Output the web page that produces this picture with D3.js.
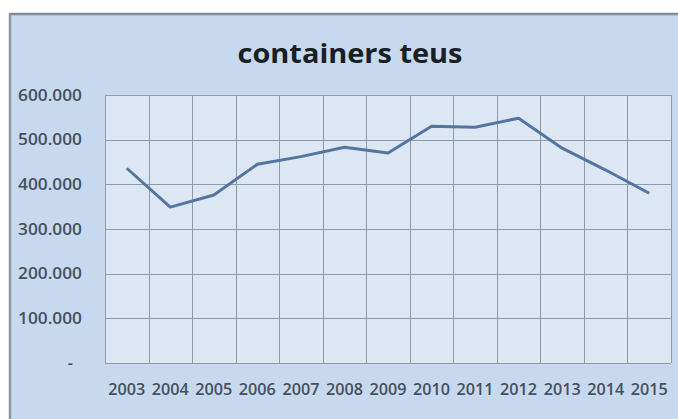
<!DOCTYPE html>
<html><head><meta charset="utf-8">
<script src="https://cdn.jsdelivr.net/npm/d3@7/dist/d3.min.js"></script>
<style>html,body{margin:0;padding:0;background:#fff;}svg{display:block;}</style>
</head><body>
<script>
const years = ["2003","2004","2005","2006","2007","2008","2009","2010","2011","2012","2013","2014","2015"];
const teus = [436000,349000,376000,445000,462000,483000,470000,530000,528000,548000,481000,432000,380000];
const yTicks = [0,100000,200000,300000,400000,500000,600000];
const yTickLabels = ["-","100.000","200.000","300.000","400.000","500.000","600.000"];
const title = "containers teus";

const W = 678, H = 419;
const svg = d3.select("body").append("svg").attr("width", W).attr("height", H);

// chart area background
svg.append("rect").attr("x", 9).attr("y", 13).attr("width", W - 9).attr("height", H - 13)
  .attr("fill", "#c7d9ef");
svg.append("line").attr("x1", 9).attr("x2", W).attr("y1", 14).attr("y2", 14)
  .attr("stroke", "#7d8b99").attr("stroke-width", 2.5);
svg.append("line").attr("x1", 10).attr("x2", 10).attr("y1", 13).attr("y2", H)
  .attr("stroke", "#8795a4").attr("stroke-width", 2.5);

const m = {left: 105, right: 671, top: 95, bottom: 363};
const x = d3.scaleBand().domain(years).range([m.left, m.right]).padding(0);
const y = d3.scaleLinear().domain([0, 600000]).range([m.bottom, m.top]);

// plot area
svg.append("rect").attr("x", m.left).attr("y", m.top)
  .attr("width", m.right - m.left).attr("height", m.bottom - m.top)
  .attr("fill", "#dde7f3");

const grid = "#8e9bab";
svg.append("g").selectAll("line").data(yTicks).join("line")
  .attr("x1", m.left).attr("x2", m.right)
  .attr("y1", d => Math.round(y(d)) + 0.5).attr("y2", d => Math.round(y(d)) + 0.5)
  .attr("stroke", grid).attr("stroke-width", 1);
const bounds = years.map(d => x(d)).concat([m.right]);
svg.append("g").selectAll("line").data(bounds).join("line")
  .attr("x1", d => Math.round(d) + 0.5).attr("x2", d => Math.round(d) + 0.5)
  .attr("y1", m.top).attr("y2", m.bottom)
  .attr("stroke", grid).attr("stroke-width", 1);

const font = "'Open Sans', 'DejaVu Sans', sans-serif";
svg.append("g").selectAll("text").data(yTicks).join("text")
  .attr("x", (d, i) => i === 0 ? 73 : 82)
  .attr("y", d => y(d) + 5.5)
  .attr("text-anchor", "end")
  .attr("font-family", font).attr("font-size", 16).attr("font-weight", 600)
  .attr("fill", "#46505c")
  .attr("textLength", (d, i) => i === 0 ? null : 64)
  .attr("lengthAdjust", "spacingAndGlyphs")
  .text((d, i) => yTickLabels[i]);

svg.append("g").selectAll("text").data(years).join("text")
  .attr("x", d => x(d) + x.bandwidth() / 2)
  .attr("y", 395)
  .attr("text-anchor", "middle")
  .attr("font-family", font).attr("font-size", 16).attr("font-weight", 600)
  .attr("fill", "#46505c")
  .attr("textLength", 37)
  .attr("lengthAdjust", "spacingAndGlyphs")
  .text(d => d);

svg.append("text").attr("x", 350).attr("y", 63)
  .attr("text-anchor", "middle")
  .attr("font-family", font).attr("font-weight", "bold").attr("font-size", 27)
  .attr("fill", "#1a1f26")
  .attr("textLength", 225).attr("lengthAdjust", "spacingAndGlyphs")
  .text(title);

const line = d3.line().x((d, i) => x(years[i]) + x.bandwidth() / 2).y(d => y(d));
svg.append("path").datum(teus).attr("d", line)
  .attr("fill", "none").attr("stroke", "#52769f").attr("stroke-width", 3)
  .attr("stroke-linejoin", "round");
</script>
</body></html>
